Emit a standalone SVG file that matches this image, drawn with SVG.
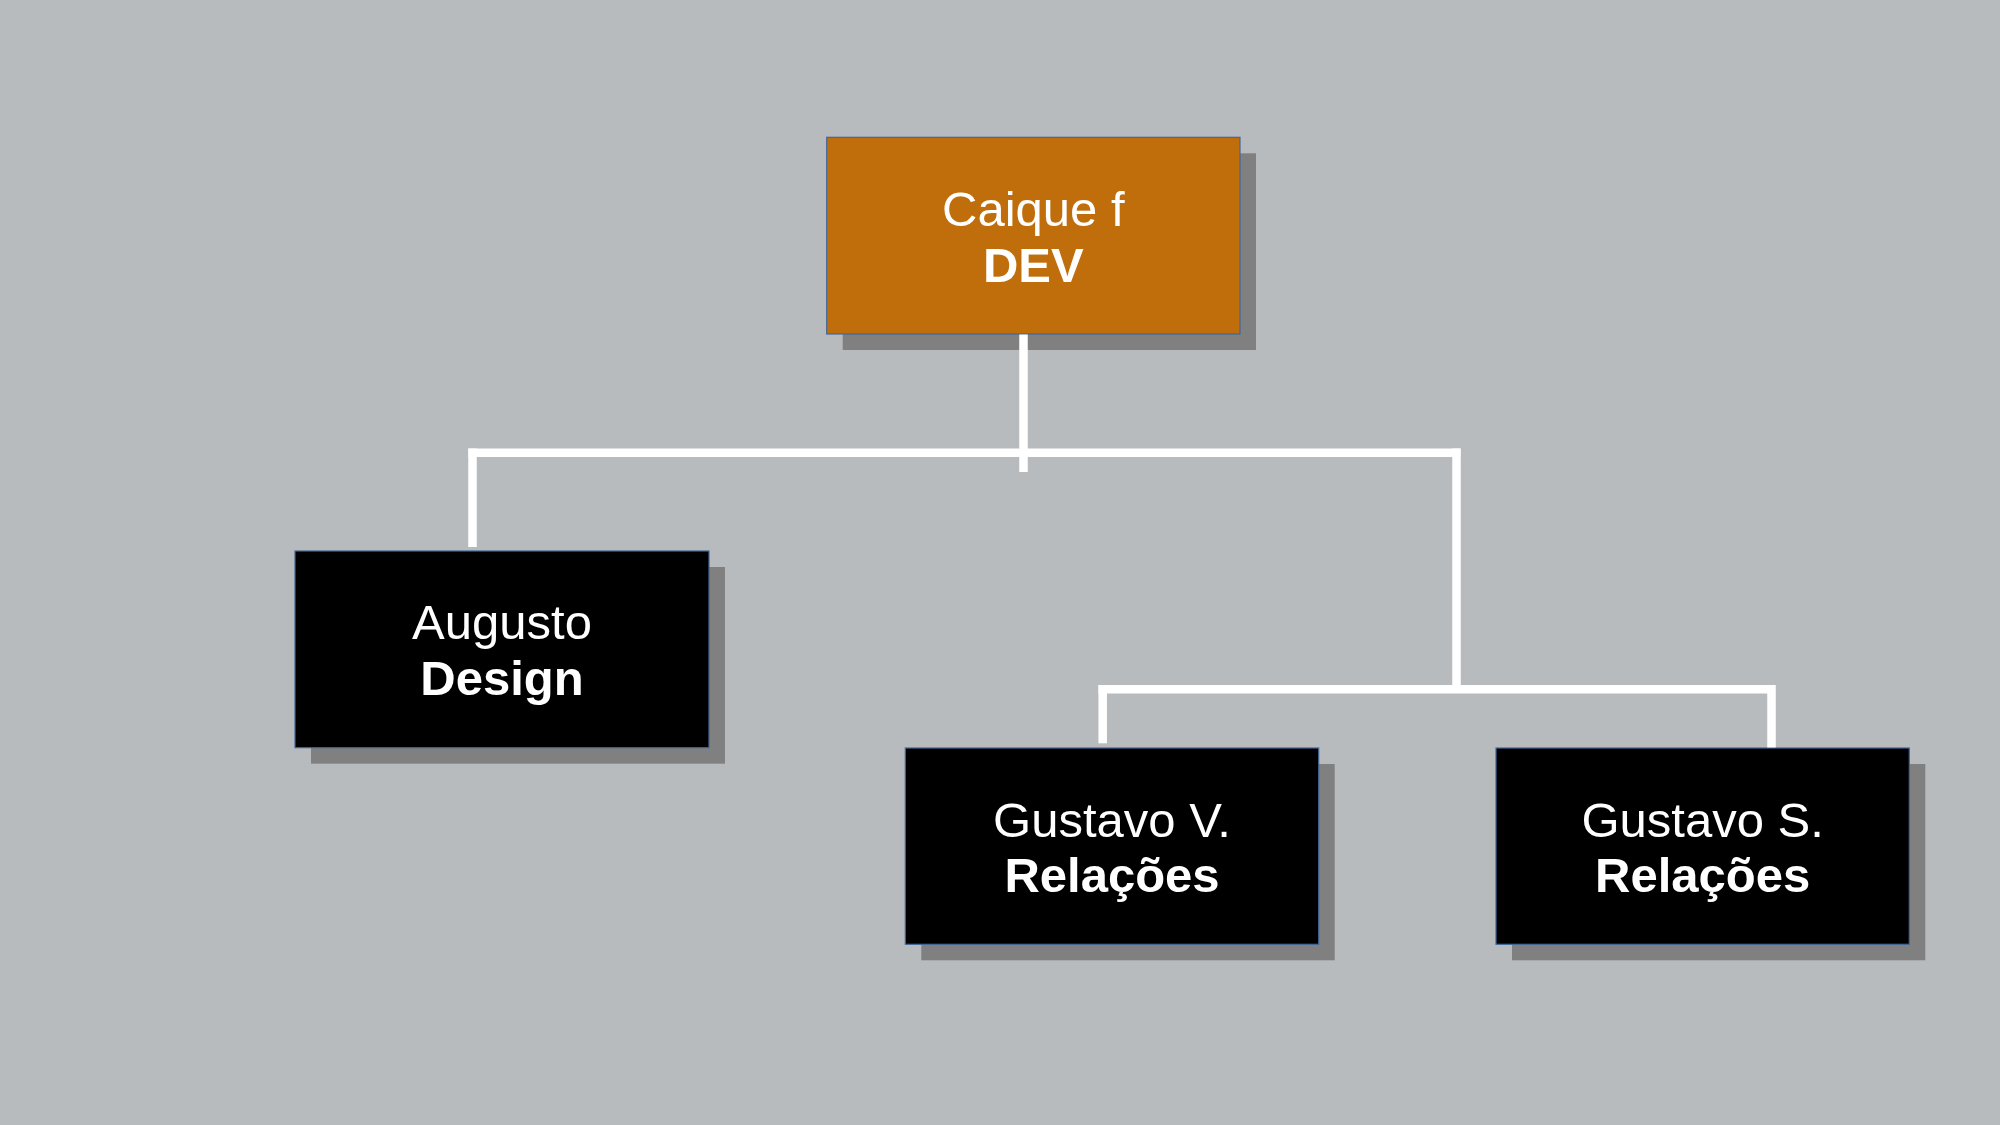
<svg xmlns="http://www.w3.org/2000/svg" width="2000" height="1125" viewBox="0 0 2000 1125">
<style>
.bg{fill:#B8BBBE}
.shadow{fill:#808080}
.box{stroke:#41679A;stroke-width:1.2}
.orange{fill:#C06E0B}
.black{fill:#000000}
.t1{font-family:"Liberation Sans",Arial,sans-serif;font-size:49px;fill:#FFFFFF;text-anchor:middle}
.t2{font-family:"Liberation Sans",Arial,sans-serif;font-size:49px;font-weight:bold;fill:#FFFFFF;text-anchor:middle}
.conn{stroke:#FFFFFF;stroke-width:8.5;fill:none}
</style>
<rect class="bg" x="0" y="0" width="2000" height="1125"/>
<g id="node-caique">
<rect class="shadow" x="842.7" y="153.3" width="413.3" height="196.7"/>
<rect class="box orange" x="826.7" y="137.3" width="413.3" height="196.7"/>
<text class="t1" x="1033.3" y="226">Caique f</text>
<text class="t2" x="1033.3" y="281.7">DEV</text>
</g>
<g id="node-augusto">
<rect class="shadow" x="311" y="567" width="414" height="196.7"/>
<rect class="box black" x="295" y="551" width="414" height="196.7"/>
<text class="t1" x="502" y="639">Augusto</text>
<text class="t2" x="502" y="695.3">Design</text>
</g>
<g id="node-gustavo-v">
<rect class="shadow" x="921.3" y="764" width="413.4" height="196.3"/>
<rect class="box black" x="905.3" y="748" width="413.4" height="196.3"/>
<text class="t1" x="1112" y="836.7">Gustavo V.</text>
<text class="t2" x="1112" y="891.7">Relações</text>
</g>
<g id="node-gustavo-s">
<rect class="shadow" x="1512" y="764" width="413.3" height="196.3"/>
<rect class="box black" x="1496" y="748" width="413.3" height="196.3"/>
<text class="t1" x="1702.7" y="836.7">Gustavo S.</text>
<text class="t2" x="1702.7" y="891.7">Relações</text>
</g>
<g id="connectors">
<line class="conn" x1="1023.5" y1="334.6" x2="1023.5" y2="472"/>
<line class="conn" x1="468.3" y1="452.7" x2="1460.4" y2="452.7"/>
<line class="conn" x1="472.5" y1="448.5" x2="472.5" y2="547"/>
<line class="conn" x1="1456.5" y1="448.5" x2="1456.5" y2="689"/>
<line class="conn" x1="1098.5" y1="689.2" x2="1771.7" y2="689.2"/>
<line class="conn" x1="1102.7" y1="685" x2="1102.7" y2="743.3"/>
<line class="conn" x1="1771.5" y1="685" x2="1771.5" y2="747.4"/>
</g>
</svg>
